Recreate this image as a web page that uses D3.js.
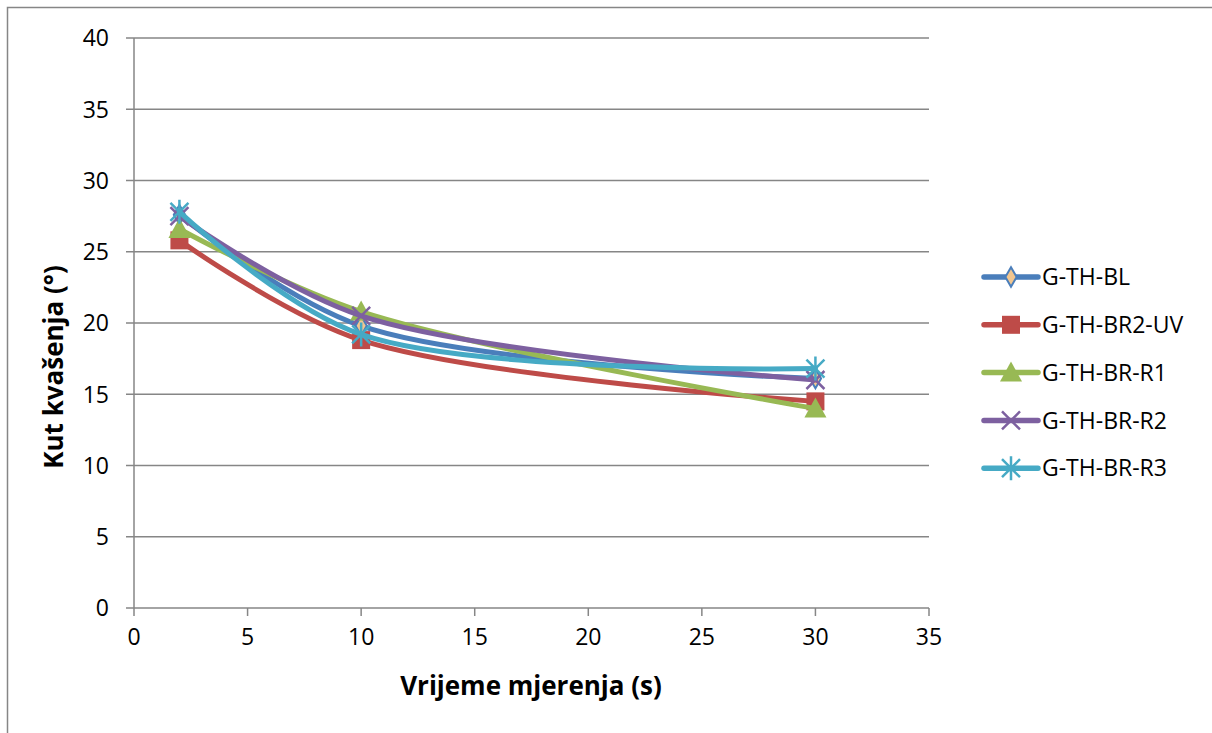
<!DOCTYPE html>
<html>
<head>
<meta charset="utf-8">
<script src="https://cdn.jsdelivr.net/npm/d3@7"></script>
<style>
  body { margin: 0; background: #fff; }
  text { font-family: "Open Sans", "Liberation Sans", sans-serif; fill: #000; }
</style>
</head>
<body>
<svg id="chart" width="1212" height="733"></svg>
<script>
// data
let times = [2, 10, 30];
let seriesNames = ["G-TH-BL", "G-TH-BR2-UV", "G-TH-BR-R1", "G-TH-BR-R2", "G-TH-BR-R3"];
let valsBL = [27.6, 19.8, 16.1];
let valsUV = [25.8, 18.8, 14.5];
let valsR1 = [26.6, 20.8, 14.0];
let valsR2 = [27.5, 20.5, 16.0];
let valsR3 = [27.8, 19.2, 16.8];
let xTicks = [0, 5, 10, 15, 20, 25, 30, 35];
let yTicks = [0, 5, 10, 15, 20, 25, 30, 35, 40];

// colors
let colors = ["#4A7EBB", "#BE4B48", "#98B954", "#7D60A0", "#46AAC5"];
let symbols = ["diamond", "square", "triangle", "x", "star"];

let series = [valsBL, valsUV, valsR1, valsR2, valsR3].map(function(v, i) {
    return {name: seriesNames[i], color: colors[i], sym: symbols[i],
        pts: v.map(function(d, j) { return [times[j], d]; })};
});

var svg = d3.select("#chart");

// outer frame (right and bottom edges fall outside the picture)
svg.append("rect")
    .attr("x", 7.5).attr("y", 7.5)
    .attr("width", 1300).attr("height", 800)
    .attr("fill", "none").attr("stroke", "#868686").attr("stroke-width", 1.5);

let x = d3.scaleLinear().domain([0, 35]).range([134, 929]);
let y = d3.scaleLinear().domain([0, 40]).range([608, 38]);

// gridlines
svg.append("g").selectAll("line")
    .data(yTicks)
    .enter().append("line")
    .attr("x1", 126).attr("x2", 929)
    .attr("y1", d => y(d)).attr("y2", d => y(d))
    .attr("stroke", "#868686").attr("stroke-width", 1.5);

// axes lines
svg.append("line").attr("x1", 134).attr("x2", 134).attr("y1", 38).attr("y2", 608)
    .attr("stroke", "#868686").attr("stroke-width", 1.5);
svg.append("g").selectAll("line")
    .data(xTicks)
    .enter().append("line")
    .attr("x1", d => x(d)).attr("x2", d => x(d))
    .attr("y1", 608).attr("y2", 616)
    .attr("stroke", "#868686").attr("stroke-width", 1.5);

// tick labels
svg.append("g").selectAll("text")
    .data(yTicks)
    .enter().append("text")
    .attr("x", 109).attr("y", d => y(d))
    .attr("dy", "0.36em")
    .attr("text-anchor", "end")
    .style("font-size", "23px")
    .text(d => d);
svg.append("g").selectAll("text")
    .data(xTicks)
    .enter().append("text")
    .attr("x", d => x(d)).attr("y", 645)
    .attr("text-anchor", "middle")
    .style("font-size", "23px")
    .text(d => d);

// axis titles
svg.append("text")
    .attr("x", 531).attr("y", 695)
    .attr("text-anchor", "middle")
    .style("font-size", "26px").style("font-weight", "bold")
    .text("Vrijeme mjerenja (s)");
svg.append("text")
    .attr("transform", "translate(63,367) rotate(-90)")
    .attr("text-anchor", "middle")
    .style("font-size", "26px").style("font-weight", "bold")
    .text("Kut kvašenja (°)");

let line = d3.line()
    .x(d => x(d[0]))
    .y(d => y(d[1]))
    .curve(d3.curveCatmullRom.alpha(0.5));

function drawMarker(g, s, cx, cy) {
    if (s.sym === "diamond") {
        g.append("path")
            .attr("d", d3.symbol().type(d3.symbolDiamond).size(110)())
            .attr("transform", "translate(" + cx + "," + cy + ")")
            .attr("fill", "#F2C68F").attr("stroke", s.color).attr("stroke-width", 2);
    } else if (s.sym === "square") {
        g.append("rect")
            .attr("x", cx - 9).attr("y", cy - 9).attr("width", 18).attr("height", 18)
            .attr("fill", s.color);
    } else if (s.sym === "triangle") {
        g.append("path")
            .attr("d", "M" + cx + "," + (cy - 11) + "L" + (cx + 11) + "," + (cy + 9) + "L" + (cx - 11) + "," + (cy + 9) + "Z")
            .attr("fill", s.color);
    } else if (s.sym === "x") {
        g.append("path")
            .attr("d", "M" + (cx - 9) + "," + (cy - 9) + "L" + (cx + 9) + "," + (cy + 9) + "M" + (cx + 9) + "," + (cy - 9) + "L" + (cx - 9) + "," + (cy + 9))
            .attr("stroke", s.color).attr("stroke-width", 2.5).attr("fill", "none");
    } else {
        g.append("path")
            .attr("d", "M" + (cx - 9) + "," + (cy - 9) + "L" + (cx + 9) + "," + (cy + 9) + "M" + (cx + 9) + "," + (cy - 9) + "L" + (cx - 9) + "," + (cy + 9) +
                "M" + cx + "," + (cy - 12) + "L" + cx + "," + (cy + 12))
            .attr("stroke", s.color).attr("stroke-width", 2.5).attr("fill", "none");
    }
}

// series lines + markers
series.forEach(function(s) {
    var g = svg.append("g");
    g.append("path")
        .attr("d", line(s.pts))
        .attr("fill", "none")
        .attr("stroke", s.color)
        .attr("stroke-width", 5)
        .attr("stroke-linecap", "round");
    s.pts.forEach(function(p) {
        drawMarker(g, s, x(p[0]), y(p[1]));
    });
});

// legend
var legend = svg.append("g");
series.forEach(function(s, i) {
    var ly = 277 + i * 47.8;
    legend.append("line")
        .attr("x1", 984).attr("x2", 1038)
        .attr("y1", ly).attr("y2", ly)
        .attr("stroke", s.color).attr("stroke-width", 5.5)
        .attr("stroke-linecap", "round");
    drawMarker(legend, s, 1011, ly);
    legend.append("text")
        .attr("x", 1042).attr("y", ly)
        .attr("dy", "0.36em")
        .style("font-size", "23px")
        .text(s.name);
});
</script>
</body>
</html>
